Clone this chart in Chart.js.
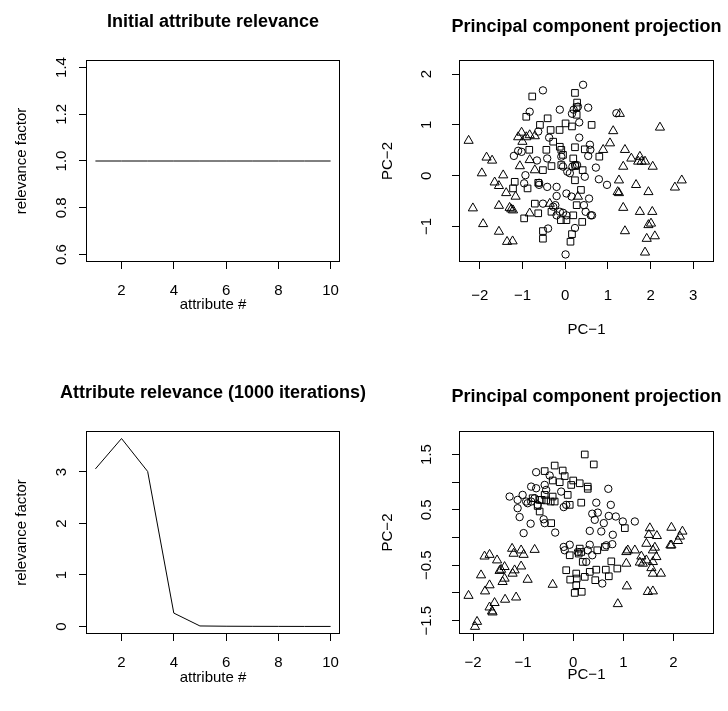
<!DOCTYPE html>
<html><head><meta charset="utf-8">
<script src="https://cdn.jsdelivr.net/npm/chart.js@4"></script>
<style>
body{margin:0;background:#fff;}
#wrap{position:relative;width:728px;height:711px;background:#fff;}
canvas{position:absolute;left:0;top:0;}
</style></head><body>
<div id="wrap">
<canvas id="c1" width="728" height="711"></canvas>
<canvas id="c2" width="728" height="711"></canvas>
<canvas id="c3" width="728" height="711"></canvas>
<canvas id="c4" width="728" height="711"></canvas>
</div>
<script>
// ---------- data ----------
const attributes = [1,2,3,4,5,6,7,8,9,10];
const initialRelevance = [1,1,1,1,1,1,1,1,1,1];
const finalRelevance = [3.06,3.65,3.01,0.26,0.01,0.005,0.003,0.002,0.001,0.001];

const attrTicks = [2,4,6,8,10];
const initYTicks = [0.6,0.8,1.0,1.2,1.4];
const initYLabels = ["0.6","0.8","1.0","1.2","1.4"];
const finalYTicks = [0,1,2,3];
const finalYLabels = ["0","1","2","3"];
const pcaTopXTicks = [-2,-1,0,1,2,3];
const pcaTopYTicks = [-1,0,1,2];
const pcaTopYLabels = ["\u22121","0","1","2"];
const pcaBotXTicks = [-2,-1,0,1,2];
const pcaBotYTicks = [-1.5,-1,-0.5,0,0.5,1,1.5];
const pcaBotYLabels = ["\u22121.5","","\u22120.5","","0.5","","1.5"];

// initial projection (top right)
const initCircles = [[-0.52,1.68],[0.42,1.79],[-0.83,1.26],[-0.125,1.30],[0.16,1.22],[0.20,1.30],[0.30,1.36],[0.54,1.34],[0.33,1.05],[1.20,1.23],[-0.63,0.87],[-0.375,0.75],[0.33,0.75],[0.58,0.61],[0.59,0.51],[-1.10,0.49],[-1.02,0.47],[-1.20,0.39],[-0.66,0.30],[-0.42,0.34],[0.54,0.39],[0.72,0.16],[0.46,-0.02],[0.79,-0.07],[0.98,-0.18],[-0.93,0.01],[-0.96,-0.15],[-0.61,-0.14],[-0.61,-0.18],[-0.42,-0.22],[-0.20,-0.22],[0.03,-0.35],[0.05,0.08],[0.11,0.05],[0.17,0.18],[0.23,0.21],[-0.05,0.18],[-0.20,-0.40],[-0.52,-0.55],[-0.23,-0.58],[0.15,-0.41],[0.56,-0.45],[0.44,-0.58],[0.48,-0.71],[0.63,-0.78],[0.03,-0.78],[-0.125,-0.71],[-0.05,-0.73],[-0.20,-0.78],[-0.40,-1.04],[0.23,-1.03],[0.01,-1.55],[-0.28,-0.61],[-0.09,0.375],[0.60,-0.78],[0.28,0.21]];
const initSquares = [[-0.77,1.56],[0.23,1.63],[0.28,1.44],[0.27,1.35],[0.27,1.20],[-0.91,1.16],[-0.59,1.0],[-0.41,1.13],[-0.34,0.90],[-0.13,0.90],[0.01,1.03],[0.16,0.97],[0.62,1.0],[-0.28,0.67],[-0.44,0.51],[-0.84,0.51],[-0.125,0.57],[-0.09,0.51],[-0.05,0.41],[0.23,0.56],[0.46,0.52],[0.80,0.375],[-0.32,0.19],[-0.52,0.11],[-0.09,0.21],[0.19,0.34],[0.24,0.19],[0.41,0.11],[0.23,-0.09],[-1.18,-0.12],[-1.22,-0.25],[-0.88,-0.25],[-0.96,-0.84],[-0.71,-0.55],[-0.63,-0.74],[0.37,-0.28],[0.27,-0.58],[0.03,-0.875],[0.19,-0.78],[0.40,-0.91],[-0.10,-0.875],[-0.52,-1.09],[-0.52,-1.24],[0.16,-1.15],[0.125,-1.30],[-0.32,-0.71],[-0.63,-0.14]];
const initTriangles = [[-2.26,0.69],[-1.84,0.36],[-1.71,0.30],[-1.95,0.05],[-1.65,-0.13],[-1.55,-0.20],[-1.45,0.01],[-1.38,-0.34],[-2.16,-0.64],[-1.92,-0.95],[-1.55,-0.59],[-1.30,-0.63],[-1.26,-0.66],[-1.22,-0.68],[-1.16,-0.41],[-1.55,-1.10],[-1.36,-1.30],[-1.23,-1.29],[-1.06,0.19],[-1.02,0.85],[-1.10,0.76],[-0.91,0.76],[-0.83,0.80],[-0.71,0.78],[-1.0,0.67],[-0.83,0.31],[-0.71,0.11],[-0.83,-0.74],[-0.36,-0.55],[1.125,0.88],[1.05,0.64],[0.89,0.51],[1.28,1.22],[2.22,0.95],[1.40,0.51],[1.55,0.34],[1.75,0.375],[1.79,0.28],[1.87,0.28],[1.71,0.28],[2.05,0.18],[1.36,0.18],[1.26,-0.09],[1.23,-0.32],[1.26,-0.34],[1.66,-0.18],[1.95,-0.32],[2.73,-0.09],[2.57,-0.23],[1.36,-0.63],[1.75,-0.71],[2.04,-0.71],[2.01,-0.94],[1.95,-0.97],[2.10,-1.19],[1.91,-1.24],[1.40,-1.09],[1.87,-1.51],[0.30,-0.41]];

// projection after training (bottom right)
const finalCircles = [[-0.74,1.18],[-0.47,1.12],[-0.84,0.92],[-0.74,0.89],[-0.57,0.95],[-0.54,0.86],[-1.27,0.74],[-1.11,0.68],[-1.01,0.77],[-0.94,0.65],[-0.91,0.62],[-0.84,0.65],[-0.77,0.71],[-0.71,0.59],[-1.11,0.53],[-1.07,0.37],[-0.85,0.25],[-0.59,0.33],[-0.57,0.26],[-0.36,0.09],[-0.99,0.08],[-0.24,0.83],[-0.19,0.55],[-0.14,0.59],[0.46,0.63],[0.49,0.45],[0.38,0.43],[0.43,0.32],[0.61,0.26],[0.56,0.11],[0.33,0.12],[0.71,0.39],[0.75,0.59],[0.85,0.38],[0.99,0.29],[1.23,0.29],[0.70,0.88],[0.79,0.05],[0.78,-0.12],[0.66,-0.14],[-0.19,-0.17],[-0.07,-0.13],[0.33,-0.13],[0.38,-0.32],[0.29,-0.23],[0.26,-0.44],[0.58,-0.83],[0.09,-0.26],[-0.17,-0.23]];
const finalSquares = [[0.23,1.50],[0.41,1.32],[-0.37,1.30],[-0.21,1.21],[-0.57,1.20],[-0.17,1.11],[-0.41,1.03],[-0.27,1.00],[0.0,1.03],[-0.04,0.95],[0.13,0.98],[0.29,0.92],[0.29,0.88],[-0.11,0.77],[-0.57,0.77],[-0.41,0.74],[-0.81,0.71],[-0.67,0.68],[-0.63,0.68],[-0.54,0.67],[-0.45,0.65],[-0.37,0.65],[-0.71,0.57],[-0.07,0.59],[0.16,0.63],[-0.67,0.47],[-0.44,0.26],[1.03,0.17],[0.13,-0.20],[0.16,-0.26],[0.11,-0.29],[-0.07,-0.32],[0.19,-0.44],[0.48,-0.23],[0.63,-0.17],[0.76,-0.43],[0.46,-0.58],[0.65,-0.58],[0.88,-0.56],[0.71,-0.70],[-0.14,-0.59],[-0.06,-0.76],[0.06,-0.65],[0.07,-0.74],[0.23,-0.71],[0.33,-0.62],[0.44,-0.77],[0.06,-0.86],[0.03,-1.0],[0.17,-0.98]];
const finalTriangles = [[-1.22,-0.20],[-1.04,-0.23],[-0.99,-0.31],[-1.19,-0.29],[-0.77,-0.22],[-1.77,-0.34],[-1.67,-0.31],[-1.52,-0.41],[-1.37,-0.53],[-1.47,-0.60],[-1.44,-0.58],[-1.84,-0.68],[-1.67,-0.86],[-1.76,-0.97],[-1.41,-0.80],[-1.37,-0.74],[-1.21,-0.65],[-1.17,-0.59],[-1.04,-0.52],[-0.91,-0.76],[-0.41,-0.85],[-2.09,-1.05],[-1.57,-1.18],[-1.67,-1.26],[-1.61,-1.35],[-1.62,-1.33],[-1.36,-1.12],[-1.14,-1.08],[-1.92,-1.52],[-1.96,-1.61],[0.89,-1.20],[1.07,-0.88],[1.06,-0.26],[1.09,-0.23],[1.23,-0.23],[1.06,-0.47],[1.36,-0.34],[1.33,-0.45],[1.39,-0.47],[1.53,0.17],[1.51,0.05],[1.67,0.03],[1.46,-0.11],[1.63,-0.18],[1.59,-0.23],[1.66,-0.35],[1.59,-0.44],[1.56,-0.55],[1.75,-0.65],[1.59,-0.65],[1.49,-0.98],[1.59,-0.97],[1.96,0.18],[2.18,0.11],[2.13,0.02],[2.09,-0.06],[1.94,-0.14],[1.96,-0.14],[1.46,-0.41]];

// ---------- drawing ----------
const FONT = '"Liberation Sans", Arial, Helvetica, sans-serif';
Chart.defaults.font.family = FONT;
Chart.defaults.color = '#000';
const W = 728, H = 711;
const minus = v => String(v).replace('-', '\u2212');

const panelPlugin = {
  id: 'panel',
  afterDraw(chart, args, o) {
    const ctx = chart.ctx, a = chart.chartArea;
    ctx.save();
    ctx.strokeStyle = '#000'; ctx.lineWidth = 1;
    ctx.strokeRect(Math.round(a.left) + 0.5, Math.round(a.top) + 0.5,
                   Math.round(a.right - a.left) - 1, Math.round(a.bottom - a.top) - 1);
    ctx.fillStyle = '#000';
    ctx.textAlign = 'center'; ctx.textBaseline = 'middle';
    const cx = (a.left + a.right) / 2, cy = (a.top + a.bottom) / 2;
    ctx.font = 'bold 18px ' + FONT;
    ctx.fillText(o.title, cx, o.titleY);
    ctx.font = '15px ' + FONT;
    ctx.fillText(o.xTitle, cx, o.xTitleY);
    ctx.save(); ctx.translate(o.yTitleX, cy); ctx.rotate(-Math.PI / 2);
    ctx.fillText(o.yTitle, 0, 0); ctx.restore();
    const ys = chart.scales.y;
    o.yTicks.forEach((v, i) => {
      const lab = o.yLabels[i];
      if (!lab) return;
      ctx.save(); ctx.translate(o.yLabelX, ys.getPixelForValue(v)); ctx.rotate(-Math.PI / 2);
      ctx.fillText(lab, 0, 0); ctx.restore();
    });
    ctx.restore();
  }
};

function makePanel(id, box, datasets, xr, yr, xTicks, yTicks, yLabels, text, xPad) {
  return new Chart(document.getElementById(id), {
    type: 'scatter',
    data: { datasets },
    options: {
      responsive: false, animation: false, devicePixelRatio: 1, events: [],
      layout: { padding: { left: 0, top: box.T, right: W - box.R, bottom: 0 } },
      plugins: {
        legend: { display: false }, tooltip: { enabled: false }, title: { display: false },
        panel: Object.assign({ yTicks, yLabels }, text)
      },
      scales: {
        x: {
          type: 'linear', min: xr[0], max: xr[1],
          afterBuildTicks: s => { s.ticks = xTicks.map(v => ({ value: v })); },
          afterFit: s => { s.height = H - box.B; },
          grid: { drawOnChartArea: false, drawTicks: true, tickLength: 7, color: '#000', lineWidth: 1 },
          border: { display: false },
          ticks: { font: { size: 15 }, color: '#000', padding: xPad, maxRotation: 0, minRotation: 0, autoSkip: false,
                   callback: v => minus(v) }
        },
        y: {
          type: 'linear', min: yr[0], max: yr[1],
          afterBuildTicks: s => { s.ticks = yTicks.map(v => ({ value: v })); },
          afterFit: s => { s.width = box.L; },
          grid: { drawOnChartArea: false, drawTicks: true, tickLength: 7, color: '#000', lineWidth: 1 },
          border: { display: false },
          ticks: { display: false }
        }
      }
    },
    plugins: [panelPlugin]
  });
}

const lineDs = vals => ({
  data: attributes.map((a, i) => ({ x: a, y: vals[i] })),
  showLine: true, pointRadius: 0, borderColor: '#000', borderWidth: 1, fill: false
});
const ptsDs = (pts, style, r) => ({
  data: pts.map(p => ({ x: p[0], y: p[1] })),
  pointStyle: style, pointRadius: r, pointBorderColor: '#000',
  pointBackgroundColor: 'rgba(0,0,0,0)', pointBorderWidth: 1, showLine: false
});

makePanel('c1', { L: 86, T: 60, R: 340, B: 262 }, [lineDs(initialRelevance)],
  [0.64, 10.36], [0.568, 1.432], attrTicks, initYTicks, initYLabels,
  { title: 'Initial attribute relevance', titleY: 22, xTitle: 'attribute #', xTitleY: 305,
    yTitle: 'relevance factor', yTitleX: 22, yLabelX: 62 }, 13);

makePanel('c2', { L: 459, T: 60, R: 714, B: 262 },
  [ptsDs(initCircles, 'circle', 3.7), ptsDs(initSquares, 'rect', 4.7), ptsDs(initTriangles, 'triangle', 5.3)],
  [-2.485, 3.485], [-1.699, 2.278], pcaTopXTicks, pcaTopYTicks, pcaTopYLabels,
  { title: 'Principal component projection', titleY: 27, xTitle: 'PC\u22121', xTitleY: 330,
    yTitle: 'PC\u22122', yTitleX: 388, yLabelX: 427 }, 18);

makePanel('c3', { L: 86, T: 431, R: 340, B: 634 }, [lineDs(finalRelevance)],
  [0.64, 10.36], [-0.146, 3.796], attrTicks, finalYTicks, finalYLabels,
  { title: 'Attribute relevance (1000 iterations)', titleY: 393, xTitle: 'attribute #', xTitleY: 678,
    yTitle: 'relevance factor', yTitleX: 22, yLabelX: 62 }, 13);

makePanel('c4', { L: 459, T: 431, R: 714, B: 634 },
  [ptsDs(finalCircles, 'circle', 3.7), ptsDs(finalSquares, 'rect', 4.7), ptsDs(finalTriangles, 'triangle', 5.3)],
  [-2.28, 2.81], [-1.742, 1.924], pcaBotXTicks, pcaBotYTicks, pcaBotYLabels,
  { title: 'Principal component projection', titleY: 397, xTitle: 'PC\u22121', xTitleY: 675,
    yTitle: 'PC\u22122', yTitleX: 388, yLabelX: 427 }, 13);
</script>
</body></html>
